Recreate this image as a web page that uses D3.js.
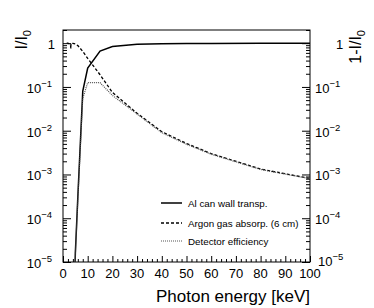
<!DOCTYPE html>
<html><head><meta charset="utf-8">
<script src="https://cdn.jsdelivr.net/npm/d3@7"></script>
<style>
body{margin:0;background:#fff}
text{font-family:"Liberation Sans",Arial,Helvetica,sans-serif;fill:#000}
</style>
</head><body>
<svg id="c" width="374" height="308"></svg>
<script>
// ---- data ----
const energyAl  = [4, 5, 6, 8, 10, 15, 20, 30, 40, 50, 60, 80, 100];
const alTransp  = [1e-7, 1.6e-5, 3e-4, 0.08, 0.27, 0.66, 0.84, 0.945, 0.972, 0.982, 0.986, 0.99, 0.992];
const energyAr  = [1.5, 2, 3, 3.2, 3.21, 4, 5, 6, 8, 10, 15, 20, 30, 40, 50, 60, 80, 100];
const arAbsorp  = [1.0, 1.0, 0.93, 0.75, 1.0, 0.99, 0.96, 0.88, 0.65, 0.45, 0.19, 0.075, 0.025, 0.0095, 0.0051, 0.003, 0.00133, 0.00081];
const energyDet = [4, 5, 6, 8, 10, 15, 20, 30, 40, 50, 60, 80, 100];
const detEff    = [1e-7, 1.5e-5, 2.7e-4, 0.055, 0.125, 0.125, 0.064, 0.024, 0.009, 0.0049, 0.0029, 0.0013, 0.0008];
const xTickValues = [0, 10, 20, 30, 40, 50, 60, 70, 80, 90, 100];
const yTickExponents = [0, -1, -2, -3, -4, -5];
const legendLabels = ["Al can wall transp.", "Argon gas absorp. (6 cm)", "Detector efficiency"];
const xTitle = "Photon energy [keV]";

// ---- layout ----
const L = 63, R = 310, T = 30, B = 262;
const svg = d3.select("#c");
const x = d3.scaleLinear().domain([0, 100]).range([L, R]);
const y = d3.scaleLog().domain([1e-5, 2]).range([B, T]);

svg.append("defs").append("clipPath").attr("id", "clip")
  .append("rect").attr("x", L).attr("y", T).attr("width", R - L).attr("height", B - T);

// minor ticks
const yMinor = [];
for (let e = -5; e <= 0; e++) for (let m = 2; m <= 9; m++) { const v = m * Math.pow(10, e); if (v <= 2) yMinor.push(v); }
const xMinor = d3.range(0, 101, 2).filter(v => v % 10 !== 0);
const yMajor = yTickExponents.map(e => Math.pow(10, e));

function styleAxis(g) { g.select(".domain").remove(); g.selectAll("line").attr("stroke", "#000").attr("stroke-width", 1); g.selectAll("text").remove(); }

svg.append("g").attr("transform", `translate(${L},0)`).call(d3.axisLeft(y).tickValues(yMajor).tickSize(-8)).call(styleAxis);
svg.append("g").attr("transform", `translate(${L},0)`).call(d3.axisLeft(y).tickValues(yMinor).tickSize(-4)).call(styleAxis);
svg.append("g").attr("transform", `translate(${R},0)`).call(d3.axisRight(y).tickValues(yMajor).tickSize(-8)).call(styleAxis);
svg.append("g").attr("transform", `translate(${R},0)`).call(d3.axisRight(y).tickValues(yMinor).tickSize(-4)).call(styleAxis);
svg.append("g").attr("transform", `translate(0,${B})`).call(d3.axisBottom(x).tickValues(xTickValues).tickSize(-6)).call(styleAxis);
svg.append("g").attr("transform", `translate(0,${B})`).call(d3.axisBottom(x).tickValues(xMinor).tickSize(-3)).call(styleAxis);

// frame
svg.append("rect").attr("x", L).attr("y", T).attr("width", R - L).attr("height", B - T)
  .attr("fill", "none").attr("stroke", "#000").attr("stroke-width", 1);

// x tick labels
svg.append("g").selectAll("text").data(xTickValues).join("text")
  .attr("x", d => x(d)).attr("y", 278).attr("text-anchor", "middle").attr("font-size", 13).text(d => d);

// y tick labels
function yLabel(g, e, xpos, anchor, dyBase) {
  const t = g.append("text").attr("x", xpos).attr("y", y(Math.pow(10, e)) + dyBase).attr("text-anchor", anchor).attr("font-size", 13);
  if (e === 0) { t.text("1"); }
  else { t.append("tspan").text("10"); t.append("tspan").attr("dy", -6).attr("font-size", 9.5).text("\u2212" + (-e)); }
}
const gl = svg.append("g"), gr = svg.append("g");
yTickExponents.forEach(e => {
  if (e === 0) { yLabel(gl, e, 55, "end", 6); yLabel(gr, e, 336, "start", 6); }
  else { yLabel(gl, e, 52, "end", 6); yLabel(gr, e, e === -5 ? 318 : 315, "start", e === -5 ? 4 : 6); }
});

// axis titles
function ratioTitle(xpos, prefix) {
  const t = svg.append("text").attr("transform", `translate(${xpos},${T}) rotate(-90)`)
    .attr("text-anchor", "end").attr("font-size", 16);
  t.append("tspan").text(prefix + "I/I");
  t.append("tspan").attr("dy", 4).attr("font-size", 11).text("0");
}
ratioTitle(27, "");
ratioTitle(361, "1-");
svg.append("text").attr("x", R).attr("y", 302).attr("text-anchor", "end").attr("font-size", 17).text(xTitle);

// curves
const line = d3.line().x(d => x(d[0])).y(d => y(d[1]));
const plot = svg.append("g").attr("clip-path", "url(#clip)");
const series = [
  { xs: energyAl, ys: alTransp, dash: null, w: 1.5, c: "#000" },
  { xs: energyAr, ys: arAbsorp, dash: "3,2", w: 1.3, c: "#000" },
  { xs: energyDet, ys: detEff, dash: "1,1", w: 1.2, c: "#555" }
];
series.forEach(s => {
  plot.append("path").datum(s.xs.map((v, i) => [v, s.ys[i]])).attr("d", line)
    .attr("fill", "none").attr("stroke", s.c).attr("stroke-width", s.w)
    .attr("stroke-dasharray", s.dash);
});

// legend
const legY = [203, 223, 241];
series.forEach((s, i) => {
  svg.append("line").attr("x1", 161).attr("x2", 182).attr("y1", legY[i]).attr("y2", legY[i])
    .attr("stroke", s.c).attr("stroke-width", s.w).attr("stroke-dasharray", s.dash);
  svg.append("text").attr("x", 188).attr("y", legY[i] + 3.5).attr("font-size", 9.8).text(legendLabels[i]);
});
</script>
</body></html>
